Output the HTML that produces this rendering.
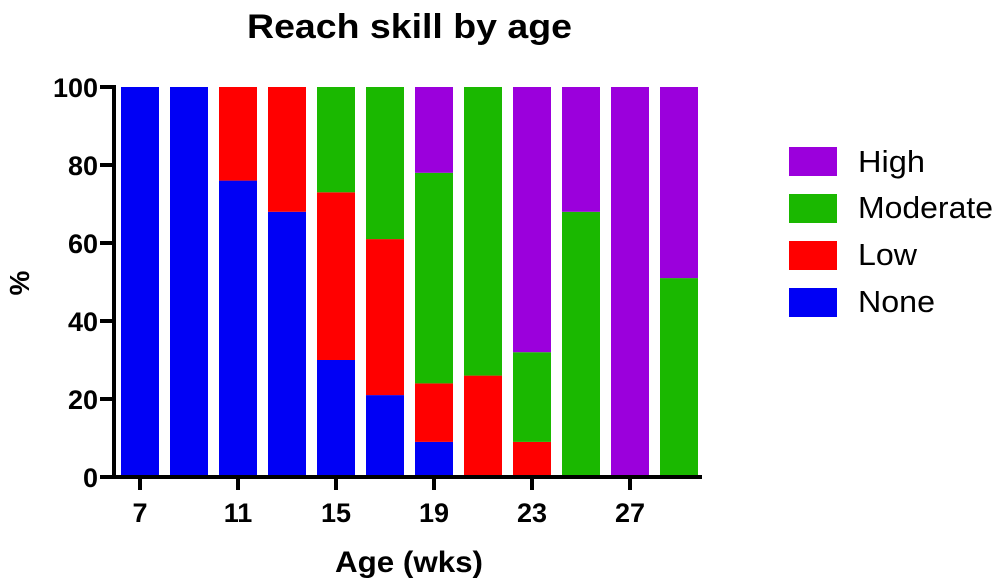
<!DOCTYPE html>
<html><head><meta charset="utf-8"><style>body{margin:0;background:#fff}svg{display:block}</style></head><body>
<svg width="1000" height="587" viewBox="0 0 1000 587" xmlns="http://www.w3.org/2000/svg" font-family="Liberation Sans, Arial, sans-serif">
<text x="247" y="38" font-size="34" font-weight="bold" textLength="325" lengthAdjust="spacingAndGlyphs">Reach skill by age</text>
<g>
<rect x="121" y="87" width="38" height="390" fill="#0000f5"/>
<rect x="170" y="87" width="38" height="390" fill="#0000f5"/>
<rect x="219" y="180.6" width="38" height="296.4" fill="#0000f5"/><rect x="219" y="87" width="38" height="93.6" fill="#ff0000"/>
<rect x="268" y="211.8" width="38" height="265.2" fill="#0000f5"/><rect x="268" y="87" width="38" height="124.8" fill="#ff0000"/>
<rect x="317" y="360" width="38" height="117" fill="#0000f5"/><rect x="317" y="192.3" width="38" height="167.7" fill="#ff0000"/><rect x="317" y="87" width="38" height="105.3" fill="#1ab800"/>
<rect x="366" y="395.1" width="38" height="81.9" fill="#0000f5"/><rect x="366" y="239.1" width="38" height="156" fill="#ff0000"/><rect x="366" y="87" width="38" height="152.1" fill="#1ab800"/>
<rect x="415" y="441.9" width="38" height="35.1" fill="#0000f5"/><rect x="415" y="383.4" width="38" height="58.5" fill="#ff0000"/><rect x="415" y="172.8" width="38" height="210.6" fill="#1ab800"/><rect x="415" y="87" width="38" height="85.8" fill="#9b00dc"/>
<rect x="464" y="375.6" width="38" height="101.4" fill="#ff0000"/><rect x="464" y="87" width="38" height="288.6" fill="#1ab800"/>
<rect x="513" y="441.9" width="38" height="35.1" fill="#ff0000"/><rect x="513" y="352.2" width="38" height="89.7" fill="#1ab800"/><rect x="513" y="87" width="38" height="265.2" fill="#9b00dc"/>
<rect x="562" y="211.8" width="38" height="265.2" fill="#1ab800"/><rect x="562" y="87" width="38" height="124.8" fill="#9b00dc"/>
<rect x="611" y="87" width="38" height="390" fill="#9b00dc"/>
<rect x="660" y="278.1" width="38" height="198.9" fill="#1ab800"/><rect x="660" y="87" width="38" height="191.1" fill="#9b00dc"/>
</g>
<g stroke="#000" stroke-width="4">
<line x1="114" y1="85" x2="114" y2="479"/>
<line x1="112" y1="477" x2="702" y2="477"/>
<line x1="100" y1="87" x2="114" y2="87"/><line x1="100" y1="165" x2="114" y2="165"/><line x1="100" y1="243" x2="114" y2="243"/><line x1="100" y1="321" x2="114" y2="321"/><line x1="100" y1="399" x2="114" y2="399"/><line x1="100" y1="477" x2="114" y2="477"/>
<line x1="140" y1="477" x2="140" y2="490"/><line x1="238" y1="477" x2="238" y2="490"/><line x1="336" y1="477" x2="336" y2="490"/><line x1="434" y1="477" x2="434" y2="490"/><line x1="532" y1="477" x2="532" y2="490"/><line x1="630" y1="477" x2="630" y2="490"/>
</g>
<g font-size="27" font-weight="bold" text-anchor="end">
<text x="98" y="97">100</text><text x="98" y="175">80</text><text x="98" y="253">60</text><text x="98" y="331">40</text><text x="98" y="409">20</text><text x="98" y="487">0</text>
</g>
<g font-size="27" font-weight="bold" text-anchor="middle">
<text x="140" y="522">7</text><text x="238" y="522">11</text><text x="336" y="522">15</text><text x="434" y="522">19</text><text x="532" y="522">23</text><text x="630" y="522">27</text>
</g>
<text x="335" y="572" font-size="30" font-weight="bold" textLength="148" lengthAdjust="spacingAndGlyphs">Age (wks)</text>
<text transform="translate(29,283) rotate(-90)" font-size="28" font-weight="bold" text-anchor="middle">%</text>
<rect x="789" y="147" width="48" height="29" fill="#9b00dc"/>
<rect x="789" y="194" width="48" height="29" fill="#1ab800"/>
<rect x="789" y="241" width="48" height="29" fill="#ff0000"/>
<rect x="789" y="288" width="48" height="29" fill="#0000f5"/>
<g font-size="31">
<text x="858" y="172" textLength="67" lengthAdjust="spacingAndGlyphs">High</text><text x="858" y="218" textLength="135" lengthAdjust="spacingAndGlyphs">Moderate</text><text x="858" y="265" textLength="59" lengthAdjust="spacingAndGlyphs">Low</text><text x="858" y="312" textLength="77" lengthAdjust="spacingAndGlyphs">None</text>
</g>
</svg>
</body></html>
